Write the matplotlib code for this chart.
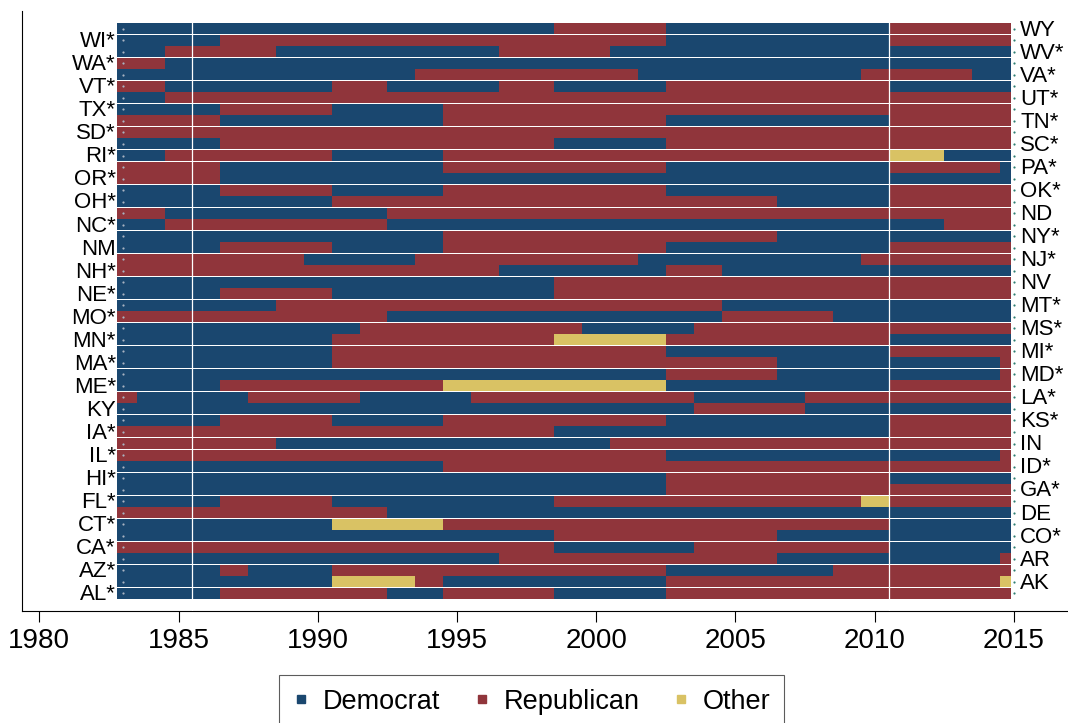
import matplotlib
matplotlib.use("Agg")
import matplotlib.pyplot as plt
from matplotlib.lines import Line2D

plt.rcParams["font.family"] = ["Liberation Sans", "DejaVu Sans"]

# states from bottom (Alabama) to top (Wyoming), * as in the original labels
states = ["AL*", "AK", "AZ*", "AR", "CA*", "CO*", "CT*", "DE", "FL*", "GA*",
          "HI*", "ID*", "IL*", "IN", "IA*", "KS*", "KY", "LA*", "ME*", "MD*",
          "MA*", "MI*", "MN*", "MS*", "MO*", "MT*", "NE*", "NV", "NH*", "NJ*",
          "NM", "NY*", "NC*", "ND", "OH*", "OK*", "OR*", "PA*", "RI*", "SC*",
          "SD*", "TN*", "TX*", "UT*", "VT*", "VA*", "WA*", "WV*", "WI*", "WY"]

# party runs per state: party letter + first year (two digits) of each run
runs = ["D83 R87 D93 R95 D99 R03", "D83 O91 R94 D95 R03 O15",
        "D83 R87 D88 R91 D03 R09", "D83 R97 D07 R15",
        "R83 D99 R04 D11", "D83 R99 D07",
        "D83 O91 R95 D11", "R83 D93",
        "D83 R87 D91 R99 O10 R11", "D83 R03",
        "D83 R03 D11", "D83 R95",
        "R83 D03 R15", "R83 D89 R01",
        "R83 D99 R11", "D83 R87 D91 R95 D03 R11",
        "D83 R04 D08", "R83 D84 R88 D92 R96 D04 R08",
        "D83 R87 O95 D03 R11", "D83 R03 D07 R15",
        "D83 R91 D07 R15", "D83 R91 D03 R11",
        "D83 R91 O99 R03 D11", "D83 R92 D00 R04",
        "R83 D93 R05 D09", "D83 R89 D05",
        "D83 R87 D91 R99", "D83 R99",
        "R83 D97 R03 D05", "R83 D90 R94 D02 R10",
        "D83 R87 D91 R95 D03 R11", "D83 R95 D07",
        "D83 R85 D93 R13", "R83 D85 R93",
        "D83 R91 D07 R11", "D83 R87 D91 R95 D03 R11",
        "R83 D87", "R83 D87 R95 D03 R11 D15",
        "D83 R85 D91 R95 O11 D13", "D83 R87 D99 R03",
        "R83", "R83 D87 R95 D03 R11",
        "D83 R87 D91 R95", "D83 R85",
        "R83 D85 R91 D93 R97 D99 R03 D11", "D83 R94 D02 R10 D14",
        "R83 D85", "D83 R85 D89 R97 D01",
        "D83 R87 D03 R11", "D83 R99 D03 R11"]

party_names = {"D": "Democrat", "R": "Republican", "O": "Other"}
party_colors = {"D": "#1a476f", "R": "#90353b", "O": "#d9c264"}

x_start, x_end = 1982.78, 2014.89
label_left_x, label_right_x = 1983, 2015
xticks = list(range(1980, 2016, 5))

fig = plt.figure(figsize=(10.68, 7.23), dpi=100)
ax = fig.add_axes([22 / 1068, 1 - 611 / 723, 1 - 22 / 1068, (611 - 10.7) / 723])

for i, (st, r) in enumerate(zip(states, runs)):
    y = i + 1
    parts = [(1900 + int(p[1:]) if int(p[1:]) > 50 else 2000 + int(p[1:]), p[0])
             for p in r.split()]
    for k, (yr, party) in enumerate(parts):
        left = max(yr - 0.5, x_start)
        right = parts[k + 1][0] - 0.5 if k + 1 < len(parts) else x_end
        ax.barh(y, right - left, left=left, height=0.957,
                color=party_colors[party], linewidth=0, antialiased=False)

ys = list(range(1, len(states) + 1))
ax.scatter([label_left_x] * len(ys), ys, s=2.5, color="#a9b4c2",
           linewidths=0, zorder=4)
ax.scatter([label_right_x] * len(ys), ys, s=2.5, color="#2e7f73",
           linewidths=0, zorder=4)

for i, st in enumerate(states):
    y = i + 1
    if y % 2 == 1:
        ax.annotate(st, xy=(label_left_x, y), xytext=(-5, -1),
                    textcoords="offset points", ha="right", va="center",
                    fontsize=16, color="black")
    else:
        ax.annotate(st, xy=(label_right_x, y), xytext=(4.5, -1),
                    textcoords="offset points", ha="left", va="center",
                    fontsize=16, color="black")

for xl in (1985.5, 2010.5):
    ax.axvline(xl, color="white", lw=0.9, zorder=3)

ax.set_xlim(1979.38, 2016.94)
ax.set_ylim(-0.54, 51.57)
ax.set_xticks(xticks)
ax.set_xticklabels([str(t) for t in xticks])
ax.set_yticks([])
ax.tick_params(axis="x", length=8, width=0.8, labelsize=20, pad=4)
for s in ("top", "right"):
    ax.spines[s].set_visible(False)
for s in ("left", "bottom"):
    ax.spines[s].set_linewidth(0.8)

handles = [Line2D([], [], marker="s", ls="", color=party_colors[p], markersize=6)
           for p in ("D", "R", "O")]
leg = fig.legend(handles, [party_names[p] for p in ("D", "R", "O")],
                 loc="upper center", bbox_to_anchor=(531.7 / 1068, 1 - 675 / 723),
                 ncol=3, fontsize=19.5, frameon=True, fancybox=False,
                 edgecolor="#333333", handlelength=0.6, handletextpad=0.5,
                 columnspacing=1.25, borderpad=0.5, borderaxespad=0)
leg.get_frame().set_linewidth(0.8)

fig.savefig("out.png", dpi=100)
